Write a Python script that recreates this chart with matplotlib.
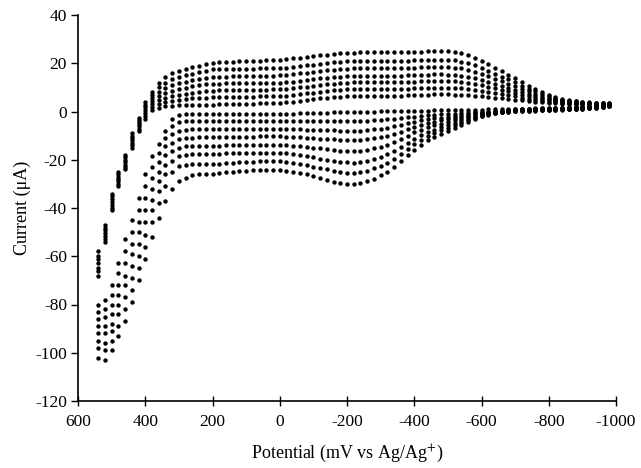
import matplotlib
matplotlib.use("Agg")
import matplotlib.pyplot as plt
import numpy as np

# potential steps of the sweep (mV vs Ag/Ag+)
potential = [540, 520, 500, 480, 460, 440, 420, 400, 380, 360, 340, 320, 300, 280, 260, 240, 220, 200,
             180, 160, 140, 120, 100, 80, 60, 40, 20,
             0, -20, -40, -60, -80, -100, -120, -140, -160, -180, -200, -220, -240, -260, -280, -300,
             -320, -340, -360, -380, -400, -420, -440, -460, -480,
             -500, -520, -540, -560, -580, -600, -620, -640, -660, -680, -700, -720, -740, -760, -780,
             -800, -820, -840, -860, -880, -900, -920, -940, -960, -980]

# forward (cathodic) branches, uA, one list per cycle
up1 = [-68, -54, -41, -31, -24, -15, -8, -3, 0.5, 1.6, 2.1, 2.4, 2.6, 2.7, 2.8, 2.8, 2.9, 2.9,
       3.0, 3.0, 3.1, 3.2, 3.2, 3.3, 3.4, 3.5, 3.5,
       3.6, 3.8, 4.1, 4.4, 4.7, 5.0, 5.4, 5.7, 6.0, 6.2, 6.4, 6.5, 6.6, 6.6, 6.6, 6.6, 6.6, 6.6, 6.6, 6.7, 6.8, 6.9, 7.0, 7.1, 7.1,
       7.1, 7.0, 6.9, 6.8, 6.6, 6.3, 6.0, 5.8, 5.5, 5.2, 4.9, 4.6, 4.3, 4.0, 3.8, 3.6, 3.4, 3.3, 3.2, 3.1, 3.0, 3.0, 2.9, 2.9, 2.9]
up2 = [-66.3, -52.8, -39.8, -30, -23, -14, -7.1, -1.8, 1.8, 3.3, 4.0, 4.5, 4.9, 5.2, 5.4, 5.6, 5.8, 6.0,
       6.0, 6.1, 6.1, 6.2, 6.2, 6.2, 6.3, 6.3, 6.4,
       6.4, 6.6, 6.9, 7.2, 7.5, 7.8, 8.2, 8.5, 8.8, 9.0, 9.2, 9.3, 9.4, 9.4, 9.4, 9.4, 9.4, 9.4, 9.4, 9.5, 9.6, 9.7, 9.8, 9.9, 9.9,
       9.9, 9.8, 9.6, 9.4, 9.0, 8.6, 8.1, 7.7, 7.2, 6.8, 6.3, 5.8, 5.3, 4.9, 4.4, 4.1, 3.8, 3.6, 3.4, 3.3, 3.2, 3.1, 3.1, 3.0, 3.0]
up3 = [-64.7, -51.7, -38.7, -29, -22, -13, -6.2, -0.7, 3.0, 4.8, 5.8, 6.5, 7.0, 7.4, 7.8, 8.1, 8.4, 8.7,
       8.8, 8.8, 8.9, 8.9, 9.0, 9.0, 9.1, 9.1, 9.2,
       9.2, 9.4, 9.7, 10.0, 10.3, 10.6, 11.0, 11.3, 11.6, 11.8, 12.0, 12.1, 12.2, 12.2, 12.2, 12.2, 12.2, 12.2, 12.2, 12.3, 12.4, 12.5, 12.6, 12.7, 12.7,
       12.7, 12.5, 12.3, 11.9, 11.5, 10.9, 10.2, 9.6, 9.0, 8.4, 7.7, 7.0, 6.3, 5.7, 5.1, 4.6, 4.2, 3.9, 3.7, 3.5, 3.4, 3.3, 3.2, 3.2, 3.1]
up4 = [-63, -50.5, -37.5, -28, -21, -12, -5.3, 0.5, 4.3, 6.5, 7.8, 8.7, 9.4, 9.9, 10.4, 10.8, 11.2, 11.6,
       11.6, 11.7, 11.7, 11.7, 11.8, 11.8, 11.8, 11.9, 11.9,
       11.9, 12.1, 12.4, 12.7, 13.0, 13.3, 13.7, 14.0, 14.3, 14.5, 14.7, 14.8, 14.9, 14.9, 14.9, 14.9, 14.9, 14.9, 14.9, 15.0, 15.1, 15.2, 15.3, 15.4, 15.4,
       15.3, 15.2, 14.9, 14.4, 13.8, 13.1, 12.3, 11.5, 10.7, 9.9, 9.0, 8.1, 7.3, 6.5, 5.8, 5.1, 4.6, 4.2, 3.9, 3.7, 3.5, 3.4, 3.3, 3.3, 3.2]
up5 = [-61.3, -49.3, -36.3, -27, -20, -11, -4.4, 1.7, 5.5, 8.0, 9.8, 10.9, 11.7, 12.3, 12.9, 13.4, 13.9, 14.4,
       14.5, 14.5, 14.6, 14.7, 14.7, 14.8, 14.8, 14.9, 14.9,
       15.0, 15.2, 15.5, 15.8, 16.1, 16.4, 16.8, 17.1, 17.4, 17.6, 17.8, 17.9, 18.0, 18.0, 18.0, 18.0, 18.0, 18.0, 18.0, 18.1, 18.2, 18.3, 18.4, 18.5, 18.5,
       18.4, 18.2, 17.9, 17.3, 16.5, 15.6, 14.6, 13.6, 12.6, 11.6, 10.6, 9.5, 8.4, 7.4, 6.5, 5.7, 5.1, 4.6, 4.2, 3.9, 3.7, 3.6, 3.4, 3.4, 3.3]
up6 = [-59.7, -48.2, -35.2, -26, -19, -10, -3.5, 2.8, 6.8, 10.0, 12.0, 13.3, 14.3, 15.0, 15.7, 16.3, 16.9, 17.5,
       17.6, 17.6, 17.7, 17.7, 17.8, 17.8, 17.9, 17.9, 18.0,
       18.0, 18.2, 18.5, 18.8, 19.1, 19.4, 19.8, 20.1, 20.4, 20.6, 20.8, 20.9, 21.0, 21.0, 21.0, 21.0, 21.0, 21.0, 21.0, 21.1, 21.2, 21.3, 21.4, 21.5, 21.5,
       21.4, 21.2, 20.7, 20.1, 19.2, 18.0, 16.9, 15.7, 14.5, 13.3, 12.1, 10.7, 9.5, 8.3, 7.2, 6.3, 5.5, 4.9, 4.5, 4.2, 3.9, 3.7, 3.6, 3.5, 3.4]
up7 = [-58, -47, -34, -25, -18, -9, -2.5, 4, 8, 12, 14.3, 15.8, 16.9, 17.6, 18.3, 19.0, 19.6, 20.2,
       20.4, 20.6, 20.7, 20.8, 20.9, 21.0, 21.1, 21.2, 21.3,
       21.5, 21.7, 22.0, 22.3, 22.6, 22.9, 23.3, 23.6, 23.9, 24.1, 24.3, 24.4, 24.5, 24.5, 24.5, 24.5, 24.5, 24.5, 24.5, 24.6, 24.7, 24.8, 24.9, 25.0, 25.0,
       24.9, 24.6, 24.1, 23.3, 22.2, 20.9, 19.5, 18.1, 16.7, 15.3, 13.8, 12.2, 10.7, 9.3, 8.0, 6.9, 6.0, 5.3, 4.8, 4.4, 4.1, 3.9, 3.7, 3.6, 3.5]

# reverse (anodic) branches, uA, one list per scan, same potential order
down1 = [-80, -78, -72, -63, -53, -45, -36, -26, -18.5, -13.5, -8, -3, -1.5, -1.2, -1.1, -1.0, -1.0, -1.0,
         -1.0, -1.0, -1.0, -1.0, -1.0, -1.0, -1.0, -1.0, -1.0, -1.0, -0.9, -0.9, -0.8, -0.8, -0.7, -0.6, -0.5, -0.4, -0.3, -0.3,
         -0.2, -0.1, 0, 0, 0.1, 0.1, 0.2, 0.2, 0.3, 0.3, 0.4, 0.4, 0.5, 0.5, 0.6, 0.6, 0.7, 0.7, 0.8, 0.8, 0.9, 0.9, 1.0, 1.0,
         1.1, 1.2, 1.2, 1.3, 1.4, 1.4, 1.5, 1.6, 1.7, 1.8, 1.9, 2.0, 2.2, 2.4, 2.8]
down2 = [-83, -82, -76, -67, -58, -50, -41, -31, -23, -17, -11, -6, -4.5, -4, -3.9, -3.8, -3.8, -3.8,
         -3.8, -3.9, -3.9, -3.9, -4.0, -4.0, -4.0, -4.0, -4.0, -4.0, -4.0, -4.0, -4.0, -4.0, -4.0, -4.0, -4.0, -4.0, -4.0, -4.0,
         -4, -4, -3.9, -3.7, -3.5, -3.3, -3.1, -2.8, -2.4, -2.1, -1.8, -1.6, -1.4, -1.2, -1.1, -0.9, -0.7, -0.5, -0.4, -0.2, 0, 0.2, 0.4, 0.7,
         1.0, 1.1, 1.1, 1.2, 1.3, 1.3, 1.4, 1.5, 1.6, 1.7, 1.8, 1.9, 2.1, 2.3, 2.7]
down3 = [-86, -85, -80, -72, -63, -55, -46, -36, -27.5, -21, -14.5, -9.5, -8, -7.5, -7.3, -7.2, -7.2, -7.2,
         -7.2, -7.2, -7.2, -7.2, -7.2, -7.2, -7.2, -7.2, -7.2, -7.2, -7.3, -7.3, -7.4, -7.5, -7.5, -7.6, -7.7, -7.8, -7.9, -7.9,
         -8, -7.9, -7.7, -7.4, -7.1, -6.7, -6.1, -5.5, -4.9, -4.2, -3.7, -3.2, -2.8, -2.5, -2.1, -1.8, -1.5, -1.1, -0.8, -0.5, -0.3, -0.1, 0.2, 0.5,
         0.8, 0.9, 1.0, 1.1, 1.1, 1.2, 1.3, 1.4, 1.5, 1.6, 1.7, 1.8, 2.0, 2.2, 2.7]
down4 = [-89, -89, -84, -76, -68, -59, -50, -41, -32, -25, -18, -13, -11.5, -11, -10.8, -10.7, -10.7, -10.7,
         -10.6, -10.6, -10.5, -10.5, -10.4, -10.4, -10.3, -10.3, -10.3, -10.3, -10.4, -10.5, -10.7, -10.8, -11.0, -11.2, -11.4, -11.6, -11.7, -11.8,
         -12, -11.9, -11.6, -11.1, -10.6, -10.0, -9.2, -8.3, -7.3, -6.3, -5.5, -4.8, -4.2, -3.7, -3.2, -2.7, -2.2, -1.7, -1.2, -0.8, -0.5, -0.3, 0, 0.3,
         0.7, 0.8, 0.8, 0.9, 1.0, 1.1, 1.2, 1.3, 1.4, 1.5, 1.6, 1.7, 1.9, 2.1, 2.6]
down5 = [-92, -92, -88, -80, -72, -64, -55, -46, -36.5, -29, -22, -16.5, -15, -14.5, -14.3, -14.2, -14.2, -14.2,
         -14.1, -14.0, -14.0, -13.9, -13.9, -13.8, -13.8, -13.8, -13.8, -13.8, -14.0, -14.2, -14.4, -14.7, -15.0, -15.3, -15.6, -15.9, -16.2, -16.3,
         -16.5, -16.3, -16.0, -15.3, -14.6, -13.7, -12.7, -11.4, -10.0, -8.7, -7.5, -6.6, -5.8, -5.1, -4.4, -3.7, -3.0, -2.3, -1.7, -1.1, -0.7, -0.4, -0.2, 0.2,
         0.5, 0.6, 0.7, 0.8, 0.9, 1.0, 1.1, 1.1, 1.2, 1.3, 1.4, 1.6, 1.8, 2.1, 2.5]
down6 = [-95, -96, -91, -84, -77, -69, -60, -51, -41, -33, -26, -20.5, -18.5, -18, -17.8, -17.7, -17.6, -17.6,
         -17.5, -17.4, -17.3, -17.3, -17.2, -17.2, -17.2, -17.2, -17.2, -17.2, -17.4, -17.7, -18.0, -18.5, -19.0, -19.5, -20.0, -20.5, -20.9, -21.1,
         -21.3, -21.1, -20.6, -19.7, -18.8, -17.7, -16.3, -14.7, -12.9, -11.2, -9.7, -8.5, -7.5, -6.5, -5.7, -4.8, -3.9, -3.0, -2.1, -1.4, -0.9, -0.6, -0.3, 0.1,
         0.4, 0.5, 0.6, 0.7, 0.8, 0.8, 0.9, 1.0, 1.1, 1.2, 1.3, 1.5, 1.7, 2.0, 2.4]
down7 = [-98, -99, -95, -89, -82, -74, -65, -56, -46, -38, -31, -25, -22.5, -22, -21.9, -21.8, -21.8, -21.8,
         -21.6, -21.4, -21.2, -21.0, -20.9, -20.8, -20.7, -20.7, -20.7, -20.7, -21.0, -21.3, -21.7, -22.2, -22.8, -23.4, -24.0, -24.6, -25.0, -25.3,
         -25.5, -25.2, -24.7, -23.6, -22.5, -21.2, -19.6, -17.6, -15.5, -13.4, -11.7, -10.2, -8.9, -7.8, -6.8, -5.8, -4.7, -3.6, -2.6, -1.7, -1.1, -0.7, -0.3, 0,
         0.2, 0.3, 0.4, 0.5, 0.6, 0.7, 0.8, 0.9, 1.0, 1.1, 1.2, 1.4, 1.6, 1.9, 2.4]
down8 = [-102, -103, -99, -93, -87, -79, -70, -61, -52, -44, -37, -32, -29, -27.5, -26.5, -26, -25.8, -25.7,
         -25.5, -25.2, -25.0, -24.7, -24.5, -24.3, -24.2, -24.2, -24.2, -24.3, -24.6, -25.0, -25.5, -26.1, -26.8, -27.6, -28.4, -29.2, -29.7, -30.0,
         -30, -29.7, -29, -27.8, -26.5, -25, -23, -20.7, -18.2, -15.8, -13.7, -12, -10.5, -9.2, -8, -6.8, -5.5, -4.2, -3, -2, -1.3, -0.8, -0.4, -0.1,
         0.1, 0.2, 0.3, 0.4, 0.5, 0.6, 0.7, 0.8, 0.9, 1.0, 1.1, 1.3, 1.5, 1.8, 2.3]

branches = [up1, up2, up3, up4, up5, up6, up7,
            down1, down2, down3, down4, down5, down6, down7, down8]

plt.rcParams['font.family'] = ['Liberation Serif', 'DejaVu Serif']
plt.rcParams['mathtext.fontset'] = 'stix'
plt.rcParams['axes.unicode_minus'] = False

fig = plt.figure(figsize=(6.41, 4.68), dpi=100)
ax = fig.add_axes([78/641, 1 - 401/468, (616 - 78)/641, (401 - 15)/468])

for cur in branches:
    ax.scatter(potential, cur, s=10, c='black', linewidths=0)

ax.set_xlim(600, -1000)
ax.set_ylim(-120, 40)
ax.set_xticks(np.arange(600, -1001, -200))
ax.set_yticks(np.arange(-120, 41, 20))
ax.tick_params(axis='x', direction='inout', length=7, width=1, labelsize=12.5, pad=6)
ax.tick_params(axis='y', direction='out', length=5, width=1, labelsize=12.5, pad=3)
for side in ['top', 'right']:
    ax.spines[side].set_visible(False)
for side in ['left', 'bottom']:
    ax.spines[side].set_linewidth(1.2)

ax.set_xlabel('Potential (mV vs Ag/Ag$^{+}$)', fontsize=13, labelpad=9)
ax.set_ylabel('Current (μA)', fontsize=13, labelpad=3)

fig.savefig('out.png', dpi=100)
